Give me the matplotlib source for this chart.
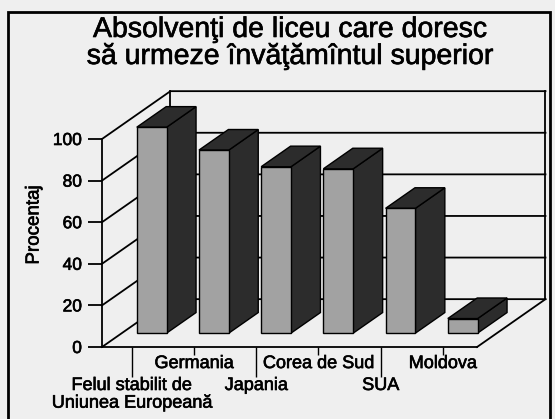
import matplotlib
matplotlib.use('Agg')
import matplotlib.pyplot as plt
import matplotlib.patheffects as pe
from matplotlib.patches import Polygon, Rectangle

plt.rcParams['font.family'] = ['Liberation Sans', 'DejaVu Sans']

# data
categories = ['Felul stabilit de\nUniunea Europeană', 'Germania', 'Japania',
              'Corea de Sud', 'SUA', 'Moldova']
values = [99, 88, 80, 79, 60, 7]
yticks = [0, 20, 40, 60, 80, 100]
title_lines = ['Absolvenţi de liceu care doresc', 'să urmeze învăţămîntul superior']
ylabel = 'Procentaj'

# layout / style
W, H = 555, 419
bg = '#efefef'
front_col = '#a2a2a2'
dark_col = '#2c2c2c'
DX, DY = 1.1, 23          # oblique depth of the floor, in data units
bar_d0, bar_dd = 0.29, 0.43  # where the bars start in depth, and how deep they are
bar_w = 0.48
x_left, x_right = -0.48, 5.55
lw = 1.3
ink = [pe.withStroke(linewidth=0.45, foreground='black')]  # heavier printed look

fig = plt.figure(figsize=(W / 100, H / 100), dpi=100, facecolor=bg)
ax = fig.add_axes([102 / W, (H - 347) / H, (545 - 102) / W, (347 - 88) / H])
ax.set_xlim(x_left, x_left + (545 - 102) / 62.2)
ax.set_ylim(0, (347 - 88) / 2.08)
ax.patch.set_visible(False)

# walls: left wall diagonals + back wall horizontals at every tick level
k = dict(color='black', lw=lw, clip_on=False, zorder=1)
bx = x_left + DX
for v in yticks:
    ax.plot([x_left, bx, x_right + DX], [v, v + DY, v + DY], **k)
ax.plot([bx, bx], [DY, 100 + DY], **k)
ax.plot([x_right + DX] * 2, [DY, 100 + DY], **k)
ax.plot([x_right, x_right + DX], [0, DY], **k)

# bars: side and top faces, then the front face
ddx, ddy = bar_dd * DX, bar_dd * DY
base = bar_d0 * DY
xs = [i + bar_d0 * DX for i in range(len(values))]
for xc, v in zip(xs, values):
    xl, xr = xc - bar_w / 2, xc + bar_w / 2
    side = Polygon([(xr, base), (xr + ddx, base + ddy), (xr + ddx, base + ddy + v), (xr, base + v)],
                   fc=dark_col, ec='black', lw=1, zorder=3, clip_on=False)
    top = Polygon([(xl, base + v), (xr, base + v), (xr + ddx, base + v + ddy), (xl + ddx, base + v + ddy)],
                  fc=dark_col, ec='black', lw=1, zorder=3, clip_on=False)
    ax.add_patch(side)
    ax.add_patch(top)
ax.bar(xs, values, width=bar_w, bottom=base, color=front_col, edgecolor='black',
       lw=1, zorder=4, clip_on=False)

# axes / ticks
for s in ['top', 'right']:
    ax.spines[s].set_visible(False)
ax.spines['left'].set_bounds(0, 100)
ax.spines['bottom'].set_bounds(x_left, x_right)
ax.spines['left'].set_linewidth(lw)
ax.spines['bottom'].set_linewidth(lw)

ax.set_yticks(yticks)
ax.tick_params(axis='y', length=10, width=lw, pad=4.5, labelsize=12.5)

ax.set_xticks(range(0, 6, 2))
ax.set_xticklabels(categories[0::2])
ax.set_xticks(range(1, 6, 2), minor=True)
ax.set_xticklabels(categories[1::2], minor=True)
ax.tick_params(axis='x', which='major', length=21.6, width=1, pad=0, labelsize=13)
ax.tick_params(axis='x', which='minor', length=5.8, width=1, pad=0, labelsize=13)
for t in ax.get_xticklabels() + ax.get_xticklabels(minor=True) + ax.get_yticklabels():
    t.set_path_effects(ink)
for t in ax.get_xticklabels():
    t.set_linespacing(1.05)

# texts
fig.text(290 / W, 1 - 37 / H, title_lines[0], ha='center', va='baseline', fontsize=20.5,
         path_effects=ink)
fig.text(290 / W, 1 - 64 / H, title_lines[1], ha='center', va='baseline', fontsize=20.5,
         path_effects=ink)
fig.text(34 / W, 1 - 225 / H, ylabel, rotation=90, ha='center', va='center', fontsize=13.5,
         path_effects=ink)

# outer frame
fig.add_artist(Rectangle((8 / W, -0.05), (550 - 8) / W, (H - 12) / H + 0.05,
                         transform=fig.transFigure, fill=False, lw=2, ec='black'))

fig.savefig('out.png', dpi=100, facecolor=bg)
